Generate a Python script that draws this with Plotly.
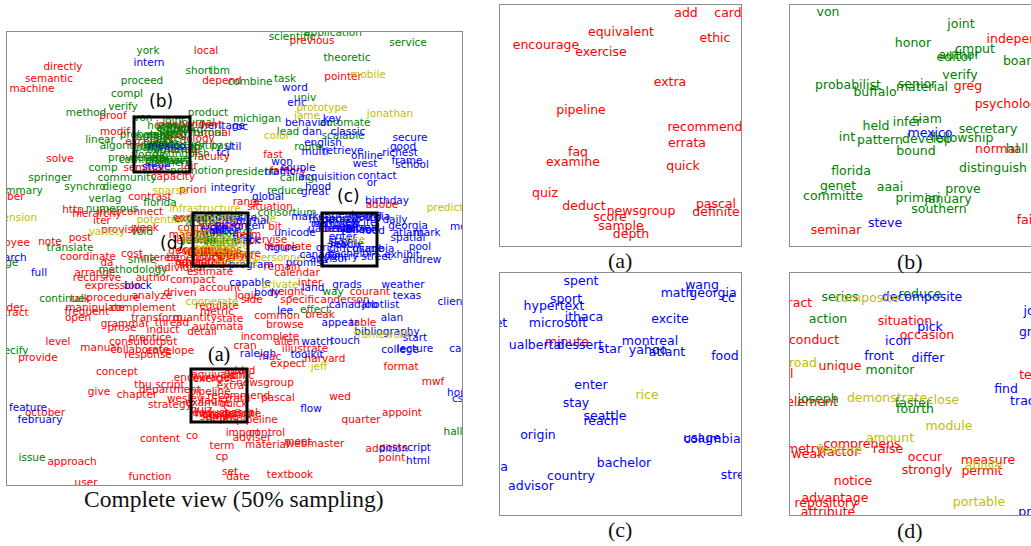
import numpy as np
import plotly.graph_objects as go

W, H = 1031, 546
PALETTE = {"red": "#ff0000", "green": "#008000", "blue": "#0000ff", "olive": "#bfbf00"}

# ---------------- complete view (embedding coordinates) ----------------
main_red = [
    ("directly", 63, 67), ("local", 206, 51), ("semantic", 49, 79), ("depend", 222, 81),
    ("machine", 32, 89), ("proof", 113, 116), ("modif", 115, 132), ("except", 143, 142),
    ("path", 178, 129), ("tutorial", 212, 133), ("faculty", 212, 157), ("solve", 60, 159),
    ("number", 4, 197), ("capacity", 173, 177), ("priori", 193, 190), ("contrast", 150, 197),
    ("previous", 312, 41), ("pointer", 343, 77), ("fast", 273, 155), ("factory", 288, 171),
    ("http", 73, 210), ("hierarchy", 97, 214), ("interconnect", 130, 212), ("iter", 102, 221),
    ("situation", 270, 207), ("range", 248, 202), ("week", 145, 228), ("provision", 125, 230),
    ("employee", 4, 243), ("note", 50, 242), ("post", 80, 238), ("coordinate", 88, 257),
    ("cost", 132, 254), ("interest", 160, 258), ("benefit", 185, 258), ("evaluate", 210, 253),
    ("da", 107, 263), ("individual", 180, 268), ("estimate", 210, 272), ("arrange", 95, 273),
    ("recursive", 97, 278), ("author", 153, 278), ("compact", 193, 280), ("expression", 113, 286),
    ("account", 220, 288), ("driven", 180, 293), ("analyze", 152, 296), ("talk", 80, 299),
    ("procedure", 113, 298), ("order", 10, 308), ("extract", 10, 313), ("manipulate", 95, 308),
    ("complement", 143, 308), ("frequent", 87, 312), ("open", 78, 318), ("transform", 157, 318),
    ("quantity", 195, 318), ("thread", 172, 323), ("grammar", 125, 324), ("prose", 122, 328),
    ("induct", 163, 330), ("detail", 202, 332), ("prentice", 150, 338), ("level", 58, 342),
    ("consult", 128, 342), ("output", 160, 342), ("manual", 100, 348), ("collaborate", 140, 350),
    ("envelope", 170, 351), ("provide", 38, 358), ("response", 148, 355), ("concept", 117, 372),
    ("thu", 143, 385), ("script", 170, 385), ("give", 99, 392), ("chapter", 137, 395),
    ("department", 170, 390), ("october", 45, 413), ("strategy", 170, 405), ("wesley", 185, 399),
    ("content", 160, 439), ("co", 192, 436), ("term", 222, 446), ("cp", 222, 457),
    ("approach", 72, 462), ("function", 150, 477), ("user", 86, 483), ("set", 230, 472),
    ("date", 238, 477), ("regulate", 217, 306), ("side", 252, 300), ("metric", 217, 312),
    ("state", 230, 319), ("automata", 218, 327), ("cran", 245, 346), ("mac", 270, 357),
    ("expect", 288, 364), ("harvard", 325, 359), ("newsgroup", 265, 383), ("pascal", 278, 398),
    ("wed", 340, 397), ("quarter", 361, 420), ("appoint", 402, 413), ("pipeline", 257, 420),
    ("import", 243, 433), ("control", 267, 433), ("adviser", 252, 438), ("material", 267, 445),
    ("meet", 298, 442), ("webmaster", 315, 444), ("addition", 387, 449), ("point", 392, 458),
    ("textbook", 290, 475), ("format", 401, 367), ("mwf", 433, 382), ("template", 288, 247),
    ("remain", 282, 267), ("calendar", 297, 273), ("bit", 275, 227), ("inter", 310, 283),
    ("adobe", 382, 205), ("courant", 370, 292), ("anderson", 345, 300), ("break", 320, 315),
    ("common", 277, 316), ("browse", 285, 325), ("table", 363, 323), ("illustrate", 305, 349),
    ("allen", 287, 342), ("incomplete", 270, 337), ("supervise", 262, 240), ("weight", 287, 292),
    ("specific", 300, 300), ("logic", 247, 296),
]
main_green = [
    ("york", 148, 51), ("short", 199, 71), ("ibm", 220, 71), ("proceed", 142, 81),
    ("compl", 127, 94), ("method", 86, 113), ("verify", 123, 107), ("product", 208, 113),
    ("journal", 197, 123), ("formal", 207, 133), ("linear", 100, 140), ("entity", 207, 146),
    ("past", 222, 146), ("prove", 123, 158), ("comp", 103, 168), ("promotion", 197, 171),
    ("community", 127, 178), ("springer", 50, 178), ("summary", 18, 191), ("synchro", 85, 187),
    ("diego", 117, 187), ("verlag", 105, 199), ("florida", 160, 203), ("numerous", 112, 209),
    ("endow", 190, 218), ("grant", 230, 216), ("void", 142, 232), ("translate", 70, 248),
    ("smile", 142, 260), ("methodology", 133, 270), ("continue", 62, 299), ("specify", 10, 351),
    ("issue", 32, 458), ("scientific", 292, 37), ("application", 333, 33), ("service", 408, 43),
    ("theoretic", 347, 58), ("task", 285, 79), ("combine", 250, 82), ("univ", 305, 98),
    ("michigan", 257, 119), ("automate", 345, 123), ("lead", 288, 132), ("scalable", 343, 136),
    ("route", 308, 147), ("president", 250, 172), ("calling", 297, 178), ("reduce", 285, 191),
    ("consortium", 287, 213), ("monitor", 233, 232), ("way", 333, 292), ("effect", 315, 310),
    ("hall", 453, 432), ("large", 5, 263), ("algorithm", 125, 146),
]
main_blue = [
    ("intern", 149, 63), ("word", 295, 88), ("eric", 297, 103), ("key", 332, 119),
    ("behavior", 308, 123), ("dan", 312, 132), ("classic", 348, 132), ("english", 323, 143),
    ("multi", 315, 152), ("retrieve", 343, 151), ("secure", 410, 138), ("good", 403, 147),
    ("richest", 400, 153), ("online", 367, 156), ("frame", 407, 161), ("school", 412, 165),
    ("west", 365, 164), ("util", 233, 147), ("heritage", 223, 126), ("roc", 240, 127),
    ("tcl", 223, 153), ("won", 282, 162), ("couple", 298, 168), ("traffic", 280, 172),
    ("contact", 377, 176), ("acquisition", 327, 177), ("or", 372, 183), ("hood", 318, 187),
    ("great", 315, 192), ("integrity", 233, 188), ("global", 268, 197), ("birthday", 387, 201),
    ("daily", 395, 220), ("georgia", 408, 226), ("atlant", 408, 233), ("mark", 427, 233),
    ("spatial", 408, 238), ("pool", 420, 247), ("exhibit", 402, 255), ("andrew", 422, 260),
    ("weather", 403, 285), ("texas", 407, 296), ("client", 452, 302), ("alan", 392, 318),
    ("start", 415, 338), ("bibliography", 387, 332), ("grads", 347, 285), ("canada", 348, 305),
    ("hotlist", 383, 305), ("job", 370, 305), ("lee", 285, 311), ("appear", 340, 323),
    ("watch", 317, 342), ("touch", 345, 341), ("body", 267, 293), ("figure", 282, 248),
    ("market", 310, 217), ("unicode", 295, 233), ("promise", 307, 263), ("land", 313, 288),
    ("capable", 250, 283), ("raleigh", 258, 354), ("toolkit", 307, 355), ("college", 400, 350),
    ("lecture", 415, 349), ("carnegie", 472, 349), ("flow", 311, 409), ("postscript", 405, 448),
    ("html", 418, 461), ("home", 462, 393), ("csci", 462, 399), ("feature", 28, 408),
    ("february", 40, 420), ("research", 4, 258), ("full", 39, 273), ("block", 138, 286),
    ("mode", 465, 227),
]
main_olive = [
    ("mobile", 368, 75), ("prototype", 322, 108), ("jame", 307, 116), ("jonathan", 390, 114),
    ("color", 277, 136), ("sparse", 170, 191), ("infrastructure", 205, 209), ("potential", 160, 220),
    ("dimension", 10, 218), ("variety", 107, 232), ("personnel", 280, 258), ("love", 265, 219),
    ("road", 206, 240), ("switch", 210, 248), ("unique", 230, 258), ("private", 280, 285),
    ("cooperate", 212, 302), ("jeff", 319, 367), ("framework", 382, 335), ("predict", 445, 208),
]

# ---------------- zoomed regions (word, colour, x, y in zoom-view units) ----------------
zoom_a = [
    ("add", "red", 686, 14), ("card", "red", 728, 14), ("equivalent", "red", 621, 33),
    ("ethic", "red", 715, 39), ("encourage", "red", 546, 46), ("exercise", "red", 601, 53),
    ("extra", "red", 670, 83), ("pipeline", "red", 581, 111), ("recommend", "red", 705, 128),
    ("errata", "red", 687, 144), ("faq", "red", 578, 153), ("examine", "red", 573, 163),
    ("quick", "red", 683, 167), ("quiz", "red", 545, 194), ("deduct", "red", 584, 207),
    ("newsgroup", "red", 641, 212), ("pascal", "red", 716, 205), ("definite", "red", 716, 213),
    ("score", "red", 610, 218), ("sample", "red", 621, 227), ("depth", "red", 631, 235),
]
zoom_b = [
    ("von", "green", 828, 13), ("joint", "green", 961, 25), ("independent", "red", 1026, 40),
    ("honor", "green", 913, 44), ("cmput", "green", 975, 50), ("author", "green", 959, 56),
    ("editor", "green", 955, 58), ("board", "green", 1021, 62), ("verify", "green", 960, 76),
    ("probabilist", "green", 848, 86), ("senior", "green", 917, 85), ("material", "green", 922, 88),
    ("buffalo", "green", 875, 93), ("greg", "red", 968, 87), ("psychology", "red", 1010, 105),
    ("siam", "green", 927, 120), ("infer", "green", 907, 123), ("held", "green", 876, 127),
    ("secretary", "green", 988, 130), ("mexico", "blue", 930, 134), ("int", "green", 847, 138),
    ("pattern", "green", 880, 141), ("develop", "green", 927, 140), ("fellowship", "green", 962, 139),
    ("normal", "red", 997, 150), ("hall", "green", 1017, 150), ("bound", "green", 916, 152),
    ("distinguish", "green", 993, 169), ("florida", "green", 851, 172), ("genet", "green", 838, 187),
    ("aaai", "green", 890, 188), ("prove", "green", 963, 190), ("committe", "green", 833, 197),
    ("primari", "green", 918, 199), ("january", "green", 948, 200), ("southern", "green", 939, 210),
    ("fair", "red", 1027, 221), ("steve", "blue", 885, 224), ("seminar", "red", 836, 231),
]
zoom_c = [
    ("spent", "blue", 581, 282), ("wang", "blue", 702, 286), ("math", "blue", 677, 294),
    ("georgia", "blue", 713, 294), ("cc", "blue", 728, 299), ("sport", "blue", 566, 300),
    ("hypertext", "blue", 554, 307), ("ithaca", "blue", 584, 318), ("excite", "blue", 670, 320),
    ("microsoft", "blue", 558, 324), ("net", "blue", 497, 324), ("minute", "red", 567, 343),
    ("ualberta", "blue", 535, 346), ("dessert", "blue", 580, 346), ("star", "blue", 610, 350),
    ("montreal", "blue", 650, 342), ("yahoo", "blue", 648, 351), ("atlant", "blue", 667, 353),
    ("food", "blue", 725, 357), ("enter", "blue", 591, 386), ("rice", "olive", 647, 396),
    ("stay", "blue", 576, 404), ("seattle", "blue", 605, 417), ("reach", "blue", 601, 422),
    ("origin", "blue", 538, 436), ("usage", "blue", 702, 439), ("columbia", "blue", 712, 440),
    ("canada", "blue", 485, 468), ("bachelor", "blue", 624, 464), ("country", "blue", 571, 477),
    ("street", "blue", 739, 476), ("advisor", "blue", 531, 487),
]
zoom_d = [
    ("series", "green", 840, 298), ("composite", "olive", 867, 299), ("reduce", "green", 920, 295),
    ("decomposite", "blue", 922, 298), ("extract", "red", 790, 304), ("journal", "blue", 1045, 312),
    ("action", "green", 828, 320), ("situation", "red", 905, 322), ("pick", "blue", 930, 328),
    ("occasion", "red", 927, 336), ("conduct", "red", 814, 341), ("icon", "blue", 898, 342),
    ("green", "blue", 1037, 333), ("front", "blue", 879, 357), ("differ", "blue", 928, 359),
    ("broad", "olive", 799, 364), ("unique", "red", 840, 367), ("monitor", "green", 890, 371),
    ("manual", "red", 770, 375), ("term", "red", 1034, 376), ("find", "blue", 1006, 390),
    ("track", "blue", 1026, 402), ("joseph", "green", 818, 400), ("element", "red", 812, 403),
    ("demonstrate", "olive", 887, 399), ("faster", "green", 913, 404), ("close", "olive", 943, 401),
    ("fourth", "green", 915, 410), ("module", "olive", 949, 427), ("amount", "olive", 890, 439),
    ("comprehens", "red", 862, 445), ("raise", "red", 888, 450), ("geometry", "red", 793, 450),
    ("feature", "olive", 840, 451), ("factor", "red", 841, 453), ("weak", "red", 808, 455),
    ("occur", "red", 925, 458), ("measure", "red", 988, 461), ("ability", "olive", 984, 466),
    ("strongly", "red", 927, 471), ("permit", "red", 982, 472), ("notice", "red", 853, 482),
    ("advantage", "red", 835, 499), ("repository", "red", 826, 504), ("portable", "olive", 979, 503),
    ("attribute", "red", 828, 513), ("program", "blue", 1045, 513),
]

# zoom boxes in the complete view (x0, x1, y0, y1) and the extent each zoom view uses
boxes = {"a": (191, 247, 369, 422), "b": (134, 190, 117, 172),
         "c": (322, 377, 213, 266), "d": (193, 248, 213, 266)}
view_ext = {"a": (500, 741, 5, 246), "b": (790, 1031, 5, 246),
            "c": (500, 741, 273, 515), "d": (790, 1031, 273, 515)}
zoom_words = {"a": zoom_a, "b": zoom_b, "c": zoom_c, "d": zoom_d}

# layout frames (page pixels)
main_frame = (7, 462, 32, 485)
panel_frame = view_ext


def dom(frame):
    x0, x1, y0, y1 = frame
    return [x0 / W, min(x1 / W, 1.0)], [1 - y1 / H, 1 - y0 / H]


def to_embedding(words, key):
    bx0, bx1, by0, by1 = boxes[key]
    vx0, vx1, vy0, vy1 = view_ext[key]
    x = bx0 + (np.array([w[2] for w in words], float) - vx0) / (vx1 - vx0) * (bx1 - bx0)
    y = by0 + (np.array([w[3] for w in words], float) - vy0) / (vy1 - vy0) * (by1 - by0)
    return x, y


fig = go.Figure()


def add_text(words, x, y, colors, xa, ya, size):
    for cname in PALETTE:
        idx = [i for i, c in enumerate(colors) if c == cname]
        if not idx:
            continue
        fig.add_trace(go.Scatter(
            x=[x[i] for i in idx], y=[y[i] for i in idx], text=[words[i] for i in idx],
            mode="text", textposition="middle center", cliponaxis=True,
            textfont=dict(family="DejaVu Sans", size=size, color=PALETTE[cname]),
            hoverinfo="skip", showlegend=False, xaxis=xa, yaxis=ya))


# complete view: sampled words
for cname, group in (("red", main_red), ("green", main_green), ("blue", main_blue), ("olive", main_olive)):
    add_text([g[0] for g in group], [g[1] for g in group], [g[2] for g in group],
             [cname] * len(group), "x", "y", 10.5)

# complete view: words of the zoomed regions
for key in "abcd":
    ws = zoom_words[key]
    ex, ey = to_embedding(ws, key)
    add_text([w[0] for w in ws], list(ex), list(ey), [w[1] for w in ws], "x", "y", 10.5)

# zoom panels
axis_ids = {"a": ("x2", "y2"), "b": ("x3", "y3"), "c": ("x4", "y4"), "d": ("x5", "y5")}
for key in "abcd":
    ws = zoom_words[key]
    ex, ey = to_embedding(ws, key)
    add_text([w[0] for w in ws], list(ex), list(ey), [w[1] for w in ws],
             axis_ids[key][0], axis_ids[key][1], 12.5)

GRAY = "#8c8c8c"
base_ax = dict(showgrid=False, zeroline=False, showticklabels=False, ticks="",
               showline=True, linecolor=GRAY, linewidth=1, fixedrange=True)

layout = dict(width=W, height=H, margin=dict(l=0, r=0, t=0, b=0), autosize=False,
              paper_bgcolor="white", plot_bgcolor="white", hovermode=False)

xd, yd = dom(main_frame)
layout["xaxis"] = dict(base_ax, domain=xd, range=[main_frame[0], main_frame[1]], mirror=True)
layout["yaxis"] = dict(base_ax, domain=yd, range=[main_frame[3], main_frame[2]], mirror=True)

for n, key in zip(range(2, 6), "abcd"):
    xd, yd = dom(panel_frame[key])
    bx0, bx1, by0, by1 = boxes[key]
    full_right = panel_frame[key][1] < W
    layout[f"xaxis{n}"] = dict(base_ax, domain=xd, range=[bx0, bx1], mirror=True, anchor=f"y{n}")
    layout[f"yaxis{n}"] = dict(base_ax, domain=yd, range=[by1, by0], mirror=full_right, anchor=f"x{n}")

shapes = []
for key in "abcd":
    bx0, bx1, by0, by1 = boxes[key]
    shapes.append(dict(type="rect", xref="x", yref="y", x0=bx0, x1=bx1, y0=by0, y1=by1,
                       line=dict(color="black", width=3), fillcolor="rgba(0,0,0,0)"))
layout["shapes"] = shapes

annotations = []
box_labels = [("(b)", 161, 101, "DejaVu Sans", 17), ("(d)", 172, 243, "DejaVu Sans", 17),
              ("(c)", 348, 196, "DejaVu Sans", 17), ("(a)", 219, 354, "Liberation Serif", 20)]
for txt, x, y, fam, sz in box_labels:
    annotations.append(dict(text=txt, x=x, y=y, xref="x", yref="y", showarrow=False,
                            xanchor="center", yanchor="middle",
                            font=dict(family=fam, size=sz, color="black")))

captions = [("Complete view (50% sampling)", 234, 499, 23.5), ("(a)", 620, 260, 22),
            ("(b)", 910, 261, 22), ("(c)", 620, 529, 22), ("(d)", 910, 530, 22)]
for txt, px, py, sz in captions:
    annotations.append(dict(text=txt, x=px / W, y=1 - py / H, xref="paper", yref="paper",
                            showarrow=False, xanchor="center", yanchor="middle",
                            font=dict(family="Liberation Serif", size=sz, color="#111111")))
layout["annotations"] = annotations

fig.update_layout(**layout)
fig.write_html("out.html",
               config={"displayModeBar": False, "staticPlot": True},
               post_script="document.body.style.margin='0px';"
                           "document.documentElement.style.overflow='hidden';"
                           "document.body.style.overflow='hidden';")
